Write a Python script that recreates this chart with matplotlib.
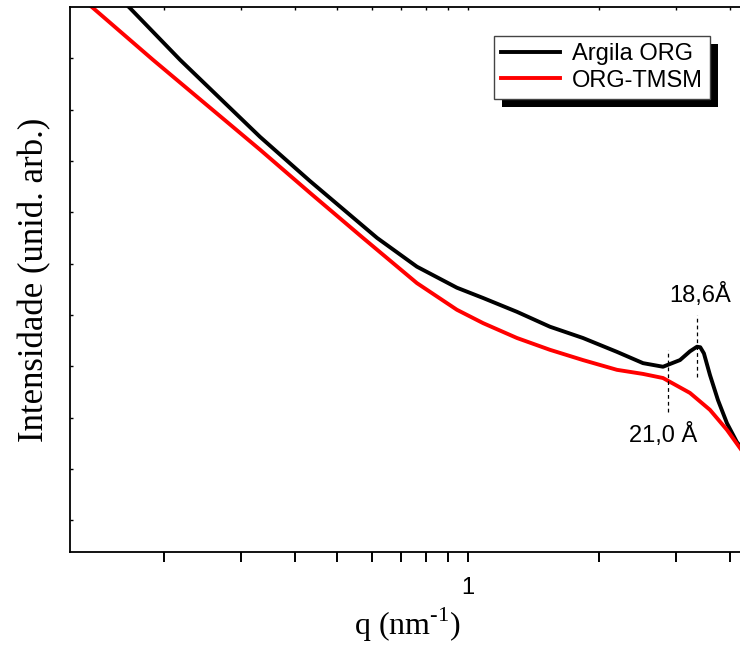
import matplotlib
matplotlib.use("Agg")
import matplotlib.pyplot as plt
from matplotlib.patches import Rectangle
from matplotlib.ticker import LogLocator, NullFormatter, FixedLocator, FixedFormatter
from matplotlib.transforms import IdentityTransform

plt.rcParams["font.family"] = "Liberation Sans"
plt.rcParams["mathtext.fontset"] = "custom"
plt.rcParams["mathtext.rm"] = "Liberation Serif"

# SAXS curves (intensity in arbitrary units, q in nm^-1)
q_org = [0.1426, 0.167, 0.2178, 0.3325, 0.433, 0.618, 0.763, 0.943, 1.083, 1.296,
         1.543, 1.838, 2.200, 2.526, 2.808, 3.072, 3.238, 3.361, 3.420, 3.487,
         3.600, 3.756, 3.939, 4.153, 4.334]
i_org = [10.55, 9.98, 8.97, 7.47, 6.61, 5.50, 4.94, 4.53, 4.33, 4.06,
         3.77, 3.55, 3.28, 3.06, 2.99, 3.12, 3.29, 3.38, 3.37, 3.25,
         2.83, 2.34, 1.89, 1.52, 1.33]

q_tmsm = [0.1216, 0.1374, 0.1887, 0.3325, 0.433, 0.5736, 0.763, 0.943, 1.083, 1.296,
          1.543, 1.838, 2.200, 2.526, 2.808, 3.238, 3.600, 3.939, 4.334]
i_tmsm = [10.36, 9.98, 8.97, 7.22, 6.38, 5.50, 4.62, 4.10, 3.84, 3.55,
          3.32, 3.12, 2.93, 2.85, 2.77, 2.48, 2.15, 1.76, 1.27]

labels = ["Argila ORG", "ORG-TMSM"]
colors = ["black", "#ff0000"]

x_ticks = [1]
x_ticklabels = ["1"]

# peak markers
peak_q = [3.361, 2.883]
peak_lo = [2.79, 2.11]
peak_hi = [4.00, 3.32]
peak_text = ["18,6Å", "21,0 Å"]
text_q = [3.414, 2.808]
text_y = [4.39, 1.66]

fig = plt.figure(figsize=(7.40, 6.46), dpi=100)
ax = fig.add_axes([70 / 740, 94 / 646, 675 / 740, 545 / 646])

ax.plot(q_org, i_org, color=colors[0], lw=2.8, label=labels[0])
ax.plot(q_tmsm, i_tmsm, color=colors[1], lw=2.8, label=labels[1])

for qv, lo, hi in zip(peak_q, peak_lo, peak_hi):
    ax.plot([qv, qv], [lo, hi], color="black", lw=0.9, ls=(0, (3, 2.5)))
for t, tq, ty in zip(peak_text, text_q, text_y):
    ax.text(tq, ty, t, ha="center", va="center", fontsize=17)

ax.set_xscale("log")
ax.set_xlim(0.1216, 4.334)
ax.set_ylim(-0.62, 10.0)

ax.xaxis.set_major_locator(FixedLocator(x_ticks))
ax.xaxis.set_major_formatter(FixedFormatter(x_ticklabels))
ax.xaxis.set_minor_locator(LogLocator(base=10, subs=range(2, 10)))
ax.xaxis.set_minor_formatter(NullFormatter())
ax.yaxis.set_major_locator(FixedLocator(range(0, 10)))
ax.yaxis.set_major_formatter(NullFormatter())

ax.tick_params(axis="x", which="both", direction="out", length=7, width=1.4,
               top=False, pad=11, labelsize=17)
ax.tick_params(axis="y", which="both", direction="in", length=2, width=1.0,
               right=False)

ax2 = ax.secondary_xaxis("top")
ax2.xaxis.set_minor_locator(LogLocator(base=10, subs=range(2, 10)))
ax2.tick_params(axis="x", which="both", direction="in", length=2, width=1.0,
                labeltop=False)
ax2.spines["top"].set_visible(False)

for s in ["left", "bottom", "top"]:
    ax.spines[s].set_linewidth(1.3)
ax.spines["right"].set_visible(False)

ax.set_xlabel(r"q (nm$^{\text{-1}}$)", family="Liberation Serif",
              fontsize=23, labelpad=5)
ax.set_ylabel("Intensidade (unid. arb.)", family="Liberation Serif",
              fontsize=25, labelpad=10)

leg = ax.legend(loc="upper right", bbox_to_anchor=(0.948, 0.947),
                borderaxespad=0, fancybox=False, framealpha=1,
                edgecolor="#444444", prop={"size": 17},
                handlelength=2.5, handletextpad=0.5, labelspacing=0.2,
                borderpad=0.3)
leg.get_frame().set_linewidth(1.0)
leg.set_zorder(6)

fig.canvas.draw()
bb = leg.get_window_extent()
shadow = Rectangle((bb.x0 + 8, bb.y0 - 8), bb.width, bb.height,
                   transform=IdentityTransform(), facecolor="black",
                   edgecolor="none", zorder=5, clip_on=False)
ax.add_patch(shadow)

fig.savefig("out.png", dpi=100)
